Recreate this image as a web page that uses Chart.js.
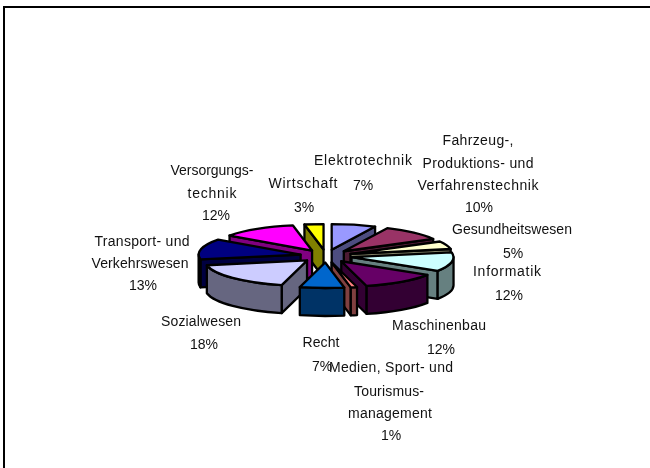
<!DOCTYPE html>
<html><head><meta charset="utf-8">
<style>html,body{margin:0;padding:0;background:#fff}canvas{display:block}</style>
<script src="https://cdn.jsdelivr.net/npm/chart.js@4/dist/chart.umd.js"></script>
</head><body><canvas id="c" width="650" height="468"></canvas>
<script>
const categories = ["Elektrotechnik","Fahrzeug-, Produktions- und Verfahrenstechnik","Gesundheitswesen","Informatik","Maschinenbau","Medien, Sport- und Tourismusmanagement","Recht","Sozialwesen","Transport- und Verkehrswesen","Versorgungstechnik","Wirtschaft"];
const shares = [7,10,5,12,12,1,7,18,13,12,3];
const topColors = ["#9999FF","#993366","#FFFFCC","#CCFFFF","#660066","#FF8080","#0066CC","#CCCCFF","#000080","#FF00FF","#FFFF00"];
const wallColors = ["#4D4D80","#4D1A33","#808066","#668080","#330033","#804040","#003366","#666680","#000040","#800080","#808000"];
const labelLines = [
 [["Elektrotechnik",363,165,98],["7%",363,190,0]],
 [["Fahrzeug-,",478,145,71],["Produktions- und",478,168,111],["Verfahrenstechnik",478,190,121],["10%",479,212,0]],
 [["Gesundheitswesen",512,234,120],["5%",513,258,0]],
 [["Informatik",507,276,68],["12%",509,300,0]],
 [["Maschinenbau",439,330,94],["12%",441,354,0]],
 [["Medien, Sport- und",391,372,124],["Tourismus-",389,396,70],["management",390,418,84],["1%",391,440,0]],
 [["Recht",321,347,37],["7%",322,371,0]],
 [["Sozialwesen",201,326,80],["18%",204,349,0]],
 [["Transport- und",142,246,95],["Verkehrswesen",140,268,97],["13%",143,290,0]],
 [["Versorgungs-",212,175,83],["technik",212,198,49],["12%",216,220,0]],
 [["Wirtschaft",303,188,69],["3%",304,212,0]]
];
const TILT = 0.25, DEPTH = 28;

const pie3d = {
  id:'pie3d',
  beforeDraw(chart){
    const {ctx,width,height}=chart;
    ctx.save();ctx.fillStyle='#fff';ctx.fillRect(0,0,width,height);
    ctx.fillStyle='#000';ctx.fillRect(3,6,width-3,2);ctx.fillRect(3,6,2,height-6);
    ctx.restore();
  },
  beforeDatasetDraw(chart,args){
    const {ctx}=chart;
    const arcs=chart.getDatasetMeta(args.index).data;
    const cy0=(chart.chartArea.top+chart.chartArea.bottom)/2;
    const items=arcs.map((arc,i)=>{
      const p=arc.getProps(['x','y','startAngle','endAngle','outerRadius']);
      const mid=(p.startAngle+p.endAngle)/2, off=arc.options.offset||0;
      return {i,mid,r:p.outerRadius,t0:p.startAngle,t1:p.endAngle,
        x:p.x+Math.cos(mid)*off, y:cy0+(p.y-cy0+Math.sin(mid)*off)*TILT};
    });
    items.sort((a,b)=>(a.y+Math.sin(a.mid)*a.r*TILT*.6)-(b.y+Math.sin(b.mid)*b.r*TILT*.6));
    ctx.save();
    ctx.lineJoin='round';ctx.lineWidth=2.3;ctx.strokeStyle='#000';
    for(const s of items){
      const pt=t=>[s.x+Math.cos(t)*s.r,s.y+Math.sin(t)*s.r*TILT];
      const wall=(t)=>{
        const [px,py]=pt(t);
        ctx.beginPath();ctx.moveTo(s.x,s.y);ctx.lineTo(px,py);ctx.lineTo(px,py+DEPTH);ctx.lineTo(s.x,s.y+DEPTH);ctx.closePath();
        ctx.fillStyle=wallColors[s.i];ctx.fill();ctx.stroke();
      };
      if(Math.cos(s.t0)<0) wall(s.t0);
      if(Math.cos(s.t1)>0) wall(s.t1);
      // outer rim, front half only
      const a=Math.max(s.t0,0), b=Math.min(s.t1,Math.PI);
      if(b>a){
        ctx.beginPath();
        ctx.ellipse(s.x,s.y,s.r,s.r*TILT,0,a,b);
        ctx.ellipse(s.x,s.y+DEPTH,s.r,s.r*TILT,0,b,a,true);
        ctx.closePath();ctx.fillStyle=wallColors[s.i];ctx.fill();ctx.stroke();
      }
      ctx.beginPath();ctx.moveTo(s.x,s.y);
      ctx.ellipse(s.x,s.y,s.r,s.r*TILT,0,s.t0,s.t1);
      ctx.closePath();ctx.fillStyle=topColors[s.i];ctx.fill();ctx.stroke();
    }
    ctx.restore();
    return false;
  },
  afterDatasetsDraw(chart){
    const {ctx}=chart;
    ctx.save();ctx.fillStyle='#111';ctx.font='14px "Liberation Sans", Arial, sans-serif';
    ctx.textAlign='left';ctx.textBaseline='alphabetic';
    for(const lines of labelLines) for(const [t,x,y,target] of lines){
      ctx.letterSpacing='0px';
      const natural=ctx.measureText(t).width, w=target||natural;
      ctx.letterSpacing=((w-natural)/Math.max(t.length-1,1)).toFixed(3)+'px';
      ctx.fillText(t,x-w/2,y);
    }
    ctx.restore();
  }
};

new Chart(document.getElementById('c'),{
  type:'pie',
  data:{labels:categories,datasets:[{data:shares,backgroundColor:topColors,borderColor:'#000',borderWidth:2,offset:26}]},
  options:{
    responsive:false,animation:false,radius:102,
    layout:{padding:{top:44,left:2,right:0,bottom:0}},
    plugins:{legend:{display:false},tooltip:{enabled:false}}
  },
  plugins:[pie3d]
});
</script></body></html>
